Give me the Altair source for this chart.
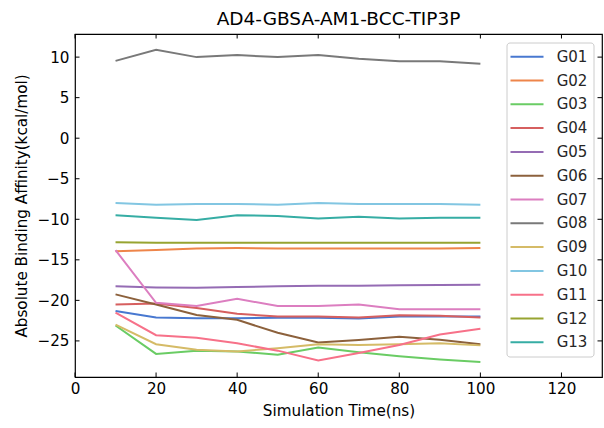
import altair as alt
import pandas as pd

# ---- data ----
times = [10, 20, 30, 40, 50, 60, 70, 80, 90, 100]
series_names = ["G01", "G02", "G03", "G04", "G05", "G06", "G07",
                "G08", "G09", "G10", "G11", "G12", "G13"]
G01 = [-21.3, -22.1, -22.2, -22.2, -22.15, -22.15, -22.25, -22.0, -22.0, -22.0]
G02 = [-13.95, -13.8, -13.6, -13.55, -13.6, -13.6, -13.6, -13.6, -13.6, -13.55]
G03 = [-23.1, -26.6, -26.2, -26.3, -26.7, -25.8, -26.4, -26.9, -27.3, -27.6]
G04 = [-20.5, -20.4, -20.95, -21.65, -22.0, -22.0, -22.1, -21.85, -21.9, -22.1]
G05 = [-18.27, -18.4, -18.45, -18.35, -18.27, -18.2, -18.2, -18.15, -18.1, -18.07]
G06 = [-19.26, -20.5, -21.8, -22.4, -24.0, -25.2, -24.9, -24.5, -24.85, -25.4]
G07 = [-13.8, -20.3, -20.7, -19.8, -20.7, -20.7, -20.5, -21.1, -21.1, -21.1]
G08 = [9.54, 10.9, 10.0, 10.25, 10.0, 10.25, 9.8, 9.5, 9.5, 9.17]
G09 = [-23.0, -25.4, -26.1, -26.3, -25.9, -25.4, -25.5, -25.4, -25.3, -25.55]
G10 = [-8.0, -8.2, -8.1, -8.1, -8.2, -8.0, -8.1, -8.1, -8.1, -8.2]
G11 = [-21.5, -24.3, -24.6, -25.3, -26.2, -27.4, -26.5, -25.5, -24.2, -23.5]
G12 = [-12.84, -12.9, -12.9, -12.9, -12.9, -12.9, -12.9, -12.9, -12.9, -12.9]
G13 = [-9.5, -9.8, -10.1, -9.5, -9.6, -9.9, -9.7, -9.9, -9.8, -9.8]
series_values = [G01, G02, G03, G04, G05, G06, G07, G08, G09, G10, G11, G12, G13]

colors = ["#4878d0", "#ee854a", "#6acc64", "#d65f5f", "#956cb4", "#8c613c",
          "#dc7ec0", "#797979", "#d5bb67", "#82c6e2", "#f77189", "#97a431", "#36ada4"]

x_ticks = [0, 20, 40, 60, 80, 100, 120]
y_ticks = [-25, -20, -15, -10, -5, 0, 5, 10]
x_domain = [0, 130]
y_domain = [-29.45, 12.85]

title_text = "AD4-GBSA-AM1-BCC-TIP3P"
x_title = "Simulation Time(ns)"
y_title = "Absolute Binding Affinity(kcal/mol)"

# ---- build table ----
rows = []
for name, vals in zip(series_names, series_values):
    for t, v in zip(times, vals):
        rows.append({"time": t, "value": v, "series": name})
df = pd.DataFrame(rows)

W, H = 527, 343
FONT = "DejaVu Sans"
FS = 15.2

xscale = alt.Scale(domain=x_domain, nice=False, zero=False)
yscale = alt.Scale(domain=y_domain, nice=False, zero=False)

lines = alt.Chart(df).mark_line(strokeWidth=2).encode(
    x=alt.X("time:Q", scale=xscale,
            axis=alt.Axis(values=x_ticks, title=x_title, ticks=False, tickSize=0,
                          domain=False, grid=False, labelPadding=4, titlePadding=7,
                          format="d", labelFlush=False)),
    y=alt.Y("value:Q", scale=yscale,
            axis=alt.Axis(values=y_ticks, title=y_title, ticks=False, tickSize=0,
                          domain=False, grid=False, labelPadding=6, titlePadding=7,
                          format="d", labelFlush=False)),
    color=alt.Color("series:N",
                    scale=alt.Scale(domain=series_names, range=colors),
                    legend=alt.Legend(
                        title=None, orient="none", legendX=431.5, legendY=8.5,
                        symbolType="M-1.275,0H2.85", symbolSize=256, symbolStrokeWidth=2,
                        symbolFillColor="transparent",
                        rowPadding=6.8, padding=5.2, labelOffset=27,
                        labelFontSize=15, labelFont=FONT, labelColor="#262626",
                        labelExpr="datum.label + ' '",
                        fillColor="rgba(255,255,255,0.8)", strokeColor="#cccccc",
                        cornerRadius=3)),
)

xt = pd.DataFrame({"v": x_ticks})
yt = pd.DataFrame({"v": y_ticks})
TL = 4.5
tick_style = dict(color="#000000", strokeWidth=1)

bottom_ticks = alt.Chart(xt).mark_rule(**tick_style).encode(
    x=alt.X("v:Q", scale=xscale), y=alt.value(H), y2=alt.value(H - TL))
top_ticks = alt.Chart(xt).mark_rule(**tick_style).encode(
    x=alt.X("v:Q", scale=xscale), y=alt.value(0), y2=alt.value(TL))
left_ticks = alt.Chart(yt).mark_rule(**tick_style).encode(
    y=alt.Y("v:Q", scale=yscale), x=alt.value(0), x2=alt.value(TL))
right_ticks = alt.Chart(yt).mark_rule(**tick_style).encode(
    y=alt.Y("v:Q", scale=yscale), x=alt.value(W - TL), x2=alt.value(W))

chart = alt.layer(lines, bottom_ticks, top_ticks, left_ticks, right_ticks).properties(
    width=W, height=H,
    background="white",
    title=alt.TitleParams(title_text, fontSize=18.5, font=FONT, fontWeight="normal",
                          color="#000000", anchor="middle", offset=5),
    autosize=alt.AutoSizeParams(type="none"),
    padding={"left": 75, "top": 34, "right": 2, "bottom": 51},
).configure_view(
    stroke="#000000", strokeWidth=1.2
).configure_axis(
    labelFont=FONT, labelFontSize=FS, labelColor="#000000",
    titleFont=FONT, titleFontSize=FS, titleColor="#000000", titleFontWeight="normal",
)

chart.save("out.html", embed_options={"renderer": "svg", "actions": False})
